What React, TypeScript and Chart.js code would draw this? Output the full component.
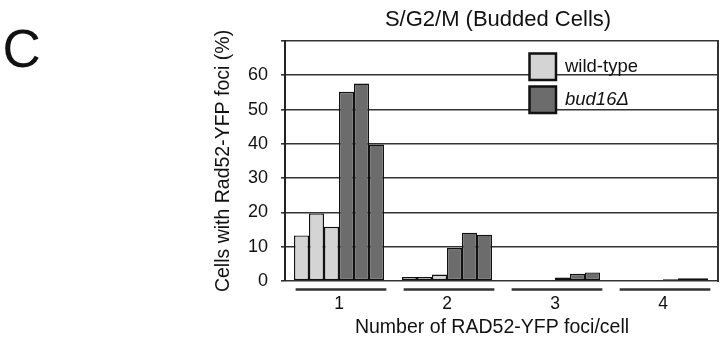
import React, { useEffect, useRef } from 'react';
import { Chart, registerables } from 'chart.js';

Chart.register(...registerables);

// ---- data ----
const categories = ['1', '2', '3', '4'];
const wildTypeRep1 = [13.3, 1.2, 0, 0];
const wildTypeRep2 = [19.7, 1.2, 0, 0];
const wildTypeRep3 = [15.8, 1.9, 0, 0];
const bud16Rep1 = [55.2, 9.6, 1.0, 0.5];
const bud16Rep2 = [57.6, 14.1, 2.1, 0.8];
const bud16Rep3 = [39.8, 13.5, 2.5, 0.8];
const yTickLabels = [0, 10, 20, 30, 40, 50, 60];
const yMax = 70;
const legendLabels = ['wild-type', 'bud16Δ'];
const chartTitle = 'S/G2/M (Budded Cells)';
const panelLabel = 'C';
const xTitle = 'Number of RAD52-YFP foci/cell';
const yTitle = 'Cells with Rad52-YFP foci (%)';

// ---- styles ----
const FONT = '"Liberation Sans", Arial, Helvetica, sans-serif';
const TEXT = '#111';
const LINE = '#333';
const WT_FILL = '#d4d4d4';
const BUD_FILL = '#6c6c6c';

const decorPlugin = {
  id: 'decor',
  afterDraw(chart: any) {
    const { ctx, chartArea: ca, scales } = chart;
    const xs = scales.x;
    ctx.save();
    // right border of plot box
    ctx.strokeStyle = LINE;
    ctx.lineWidth = 2;
    ctx.beginPath();
    ctx.moveTo(ca.right + 1, ca.top - 1);
    ctx.lineTo(ca.right + 1, ca.bottom + 1);
    ctx.stroke();

    // panel label
    ctx.fillStyle = TEXT;
    ctx.textAlign = 'left';
    ctx.textBaseline = 'alphabetic';
    ctx.font = `53px ${FONT}`;
    ctx.fillText(panelLabel, 2.5, 67);

    // title
    ctx.textAlign = 'center';
    ctx.font = `22px ${FONT}`;
    ctx.fillText(chartTitle, (ca.left + ca.right) / 2 - 3, 26);

    // x title
    ctx.font = `19.5px ${FONT}`;
    ctx.fillText(xTitle, (ca.left + ca.right) / 2 - 9, 333);

    // group underlines
    const catW = (ca.right - ca.left) / categories.length;
    ctx.strokeStyle = LINE;
    ctx.lineWidth = 2.5;
    categories.forEach((_, i) => {
      const c = xs.getPixelForValue(i) + 2;
      ctx.beginPath();
      ctx.moveTo(c - catW * 0.42, ca.bottom + 8.5);
      ctx.lineTo(c + catW * 0.42, ca.bottom + 8.5);
      ctx.stroke();
    });

    // legend
    const fills = [WT_FILL, BUD_FILL];
    const lx = ca.left + 244.5;
    const size = 26.5;
    legendLabels.forEach((lab, i) => {
      const ly = ca.top + 12.5 + i * 33;
      ctx.fillStyle = fills[i];
      ctx.fillRect(lx, ly, size, size);
      ctx.strokeStyle = '#111';
      ctx.lineWidth = 2.5;
      ctx.strokeRect(lx, ly, size, size);
      ctx.fillStyle = TEXT;
      ctx.textAlign = 'left';
      ctx.textBaseline = 'middle';
      ctx.font = `${i === 1 ? 'italic ' : ''}18.5px ${FONT}`;
      ctx.fillText(lab, lx + size + 9, ly + size / 2);
    });
    ctx.restore();
  },
};

export default function App() {
  const ref = useRef<HTMLCanvasElement>(null);
  useEffect(() => {
    if (!ref.current) return;
    const mk = (label: string, data: number[], fill: string) => ({
      label,
      data,
      backgroundColor: fill,
      borderColor: '#111',
      borderWidth: 1.4,
      borderSkipped: false,
      barThickness: 15,
      inflateAmount: 0,
    });
    const chart = new Chart(ref.current, {
      type: 'bar',
      data: {
        labels: categories,
        datasets: [
          mk('wild-type 1', wildTypeRep1, WT_FILL),
          mk('wild-type 2', wildTypeRep2, WT_FILL),
          mk('wild-type 3', wildTypeRep3, WT_FILL),
          mk('bud16Δ 1', bud16Rep1, BUD_FILL),
          mk('bud16Δ 2', bud16Rep2, BUD_FILL),
          mk('bud16Δ 3', bud16Rep3, BUD_FILL),
        ] as any,
      },
      options: {
        responsive: false,
        maintainAspectRatio: false,
        animation: false,
        layout: { padding: { left: 190, right: 4, top: 41, bottom: 0 } },
        plugins: {
          legend: { display: false },
          tooltip: { enabled: false },
          title: { display: false },
        },
        scales: {
          x: {
            grid: { display: false, drawTicks: false },
            border: { display: false },
            ticks: { font: { family: FONT, size: 17.5 }, color: TEXT, padding: 13 },
            afterFit: (s: any) => {
              s.height = 64;
            },
          },
          y: {
            min: 0,
            max: yMax,
            ticks: {
              stepSize: 10,
              padding: 13,
              font: { family: FONT, size: 18 },
              color: TEXT,
              callback: (v: any) => (yTickLabels.includes(Number(v)) ? String(v) : ''),
            },
            grid: { color: LINE, lineWidth: 1.6, tickLength: 4, drawTicks: true },
            border: { color: '#222', width: 2 },
            title: {
              display: true,
              text: yTitle,
              color: TEXT,
              font: { family: FONT, size: 19.5 },
              padding: { top: 22, bottom: 0 },
            },
            afterFit: (s: any) => {
              s.width = 95;
            },
          },
        },
      } as any,
      plugins: [decorPlugin],
    });
    return () => chart.destroy();
  }, []);
  return (
    <div style={{ position: 'absolute', left: 0, top: 0, width: 721, height: 345, background: '#fff' }}>
      <canvas ref={ref} width={721} height={345} style={{ display: 'block' }} />
    </div>
  );
}
